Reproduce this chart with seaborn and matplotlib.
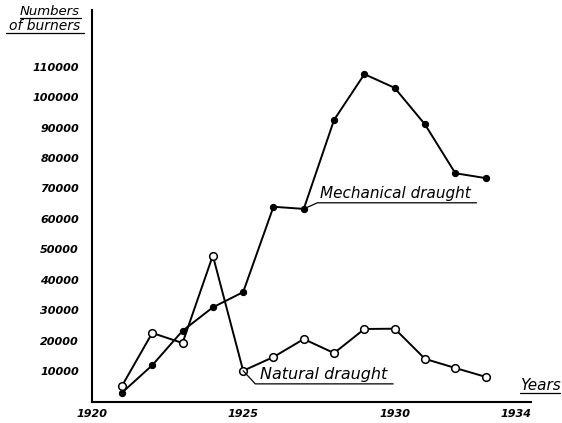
import matplotlib
matplotlib.use("Agg")
import matplotlib.pyplot as plt
import seaborn as sns
import pandas as pd

# Data
years = list(range(1921, 1934))
mechanical = [3000, 12000, 23300, 31000, 36000, 64000, 63300, 92500,
              107500, 103000, 91000, 75000, 73400]
natural = [5200, 22600, 19300, 48000, 10200, 14700, 20600, 16000,
           23900, 24000, 14100, 11100, 8200]

x_major = [1920, 1925, 1930, 1934]
y_ticks = list(range(10000, 120001, 10000))
y_labels = [str(v) for v in range(10000, 110001, 10000)] + [""]

df = pd.DataFrame({"year": years + years,
                   "burners": mechanical + natural,
                   "kind": ["Mechanical draught"] * len(years) + ["Natural draught"] * len(years)})

sns.set_style("white")
plt.rcParams["font.family"] = ["DejaVu Sans"]
plt.rcParams["text.color"] = "black"
plt.rcParams["xtick.color"] = "black"
plt.rcParams["ytick.color"] = "black"

fig = plt.figure(figsize=(5.62, 4.23), dpi=100)
ax = fig.add_axes([0.163, 0.05, 0.782, 0.926])

sns.lineplot(data=df[df.kind == "Mechanical draught"], x="year", y="burners",
             color="black", lw=1.4, marker="o", markersize=4.5,
             markerfacecolor="black", markeredgecolor="black", ax=ax)
sns.lineplot(data=df[df.kind == "Natural draught"], x="year", y="burners",
             color="black", lw=1.4, marker="o", markersize=5.5,
             markerfacecolor="white", markeredgecolor="black", markeredgewidth=1.1, ax=ax)

ax.set_xlim(1920, 1934.5)
ax.set_ylim(0, 128500)
ax.set_xlabel("")
ax.set_ylabel("")

for s in ["top", "right"]:
    ax.spines[s].set_visible(False)
for s in ["left", "bottom"]:
    ax.spines[s].set_linewidth(1.5)
    ax.spines[s].set_color("black")

ax.set_xticks(x_major)
ax.set_xticklabels([str(v) for v in x_major], style="italic", fontsize=8, fontweight="bold")
ax.set_xticks(years, minor=True)
ax.set_yticks(y_ticks)
ax.set_yticklabels(y_labels, style="italic", fontsize=8, fontweight="bold")
ax.tick_params(axis="x", which="major", direction="inout", length=8, width=1.2, pad=1)
ax.tick_params(axis="x", which="minor", direction="inout", length=4, width=1)
ax.tick_params(axis="y", direction="out", length=4, width=1.2, pad=5)

# series labels with leader lines
ax.plot([1927, 1927.45, 1932.7], [63300, 65300, 65300], color="black", lw=0.9, clip_on=False)
ax.text(1927.55, 65900, "Mechanical draught", style="italic", fontsize=11, va="bottom", ha="left")
ax.plot([1925, 1925.4, 1929.95], [10200, 5900, 5900], color="black", lw=0.9, clip_on=False)
ax.text(1925.55, 6500, "Natural draught", style="italic", fontsize=11.5, va="bottom", ha="left")

# axis titles
fig.text(0.925, 0.072, "Years", style="italic", fontsize=11, ha="left", va="bottom")
fig.add_artist(plt.Line2D([0.925, 0.997], [0.072, 0.072], color="black", lw=0.9))
fig.text(0.088, 0.958, "Numbers", style="italic", fontsize=9.5, ha="center", va="bottom")
fig.add_artist(plt.Line2D([0.035, 0.145], [0.957, 0.957], color="black", lw=0.9))
fig.text(0.08, 0.922, "of burners", style="italic", fontsize=10, ha="center", va="bottom")
fig.add_artist(plt.Line2D([0.01, 0.15], [0.921, 0.921], color="black", lw=0.9))

fig.savefig("out.png", dpi=100)
